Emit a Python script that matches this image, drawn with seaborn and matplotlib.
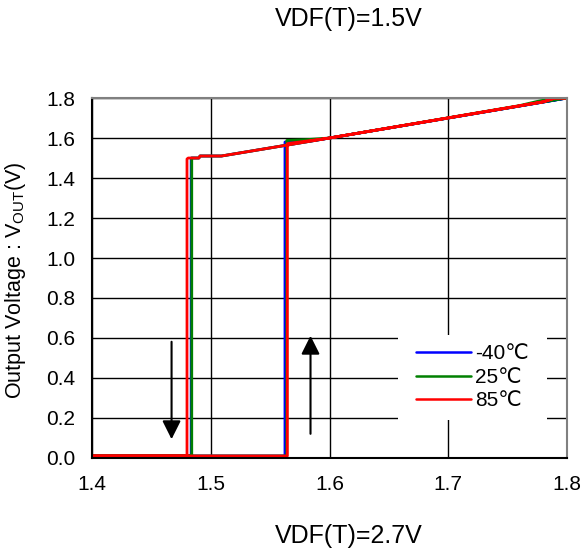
import numpy as np
import pandas as pd
import seaborn as sns
import matplotlib.pyplot as plt
from matplotlib.patches import Rectangle

# === data (input sweep up, then back down) ===
temps = ['-40℃', '25℃', '85℃']
colors = ['#0000ff', '#008000', '#ff0000']

vin_m40 = [1.40, 1.5625, 1.5625, 1.580, 1.600, 1.800, 1.800, 1.600, 1.509, 1.491, 1.490, 1.4835, 1.4835, 1.40]
vout_m40 = [0.01, 0.01, 1.580, 1.582, 1.600, 1.800, 1.800, 1.600, 1.510, 1.510, 1.500, 1.500, 0.01, 0.01]

vin_25 = [1.40, 1.564, 1.564, 1.581, 1.600, 1.760, 1.775, 1.790, 1.800,
          1.800, 1.600, 1.509, 1.491, 1.490, 1.484, 1.484, 1.40]
vout_25 = [0.01, 0.01, 1.588, 1.592, 1.600, 1.762, 1.783, 1.800, 1.800,
           1.800, 1.600, 1.510, 1.510, 1.500, 1.500, 0.01, 0.01]

vin_85 = [1.40, 1.5645, 1.5645, 1.600, 1.780, 1.790, 1.800,
          1.790, 1.780, 1.600, 1.509, 1.491, 1.490, 1.481, 1.480, 1.480, 1.40]
vout_85 = [0.01, 0.01, 1.572, 1.600, 1.781, 1.800, 1.800,
           1.800, 1.781, 1.600, 1.510, 1.510, 1.500, 1.500, 1.495, 0.01, 0.01]

x_ticks = [1.4, 1.5, 1.6, 1.7, 1.8]
y_ticks = [0.0, 0.2, 0.4, 0.6, 0.8, 1.0, 1.2, 1.4, 1.6, 1.8]
top_note = 'VDF(T)=1.5V'
bottom_note = 'VDF(T)=2.7V'

frames = []
for t, vi, vo in zip(temps, [vin_m40, vin_25, vin_85], [vout_m40, vout_25, vout_85]):
    frames.append(pd.DataFrame({'Temp': t, 'Vin': vi, 'Vout': vo, 'step': np.arange(len(vi))}))
df = pd.concat(frames, ignore_index=True)

# === plot ===
sns.set_theme(style='white')
plt.rcParams['font.family'] = ['Liberation Sans', 'DejaVu Sans']
plt.rcParams['text.color'] = 'black'
plt.rcParams['axes.labelcolor'] = 'black'
plt.rcParams['xtick.color'] = 'black'
plt.rcParams['ytick.color'] = 'black'

fig = plt.figure(figsize=(5.83, 5.55), dpi=100)
ax = fig.add_axes([0.1578, 0.1748, 0.8148, 0.6486])

sns.lineplot(data=df, x='Vin', y='Vout', hue='Temp', hue_order=temps,
             palette=dict(zip(temps, colors)), sort=False, estimator=None,
             linewidth=2.0, ax=ax, legend=False)

ax.set_xlim(1.4, 1.8)
ax.set_ylim(0, 1.8)
ax.set_xticks(x_ticks)
ax.set_yticks(y_ticks)
ax.set_xticklabels([f'{v:.1f}' for v in x_ticks])
ax.set_yticklabels([f'{v:.1f}' for v in y_ticks])
ax.tick_params(axis='both', labelsize=15, direction='in', length=4, width=1.2, color='black')
ax.tick_params(axis='x', pad=12)
ax.tick_params(axis='y', pad=12)
ax.grid(True, color='black', linewidth=1.0)
ax.set_axisbelow(True)

for side in ['left', 'bottom']:
    ax.spines[side].set_color('black')
    ax.spines[side].set_linewidth(1.5)
for side in ['top', 'right']:
    ax.spines[side].set_color('#808080')
    ax.spines[side].set_linewidth(1.5)

ax.set_xlabel('')
ax.set_ylabel('Output Voltage : V$_{\\mathregular{OUT}}$(V)', fontsize=15.5)
ax.yaxis.set_label_coords(-0.135, 0.494)

# hysteresis direction arrows
ax.annotate('', xy=(1.467, 0.08), xytext=(1.467, 0.595),
            arrowprops=dict(arrowstyle='-|>', color='black', lw=1.5, mutation_scale=28))
ax.annotate('', xy=(1.584, 0.625), xytext=(1.584, 0.107),
            arrowprops=dict(arrowstyle='-|>', color='black', lw=1.5, mutation_scale=28))

# white block behind the legend hides the grid
ax.add_patch(Rectangle((0.644, 0.106), 0.314, 0.236, transform=ax.transAxes,
                       facecolor='white', edgecolor='none', zorder=1.8))
handles = [plt.Line2D([], [], color=c, lw=1.8) for c in colors]
ax.legend(handles, temps, loc='center', bbox_to_anchor=(0.801, 0.224), frameon=False,
          fontsize=15, handlelength=2.6, handletextpad=0.2, labelspacing=0.22)

fig.text(349 / 583, 1 - 19 / 555, top_note, ha='center', va='center', fontsize=18)
fig.text(349 / 583, 1 - 536 / 555, bottom_note, ha='center', va='center', fontsize=18)

fig.savefig('out.png', dpi=100)
